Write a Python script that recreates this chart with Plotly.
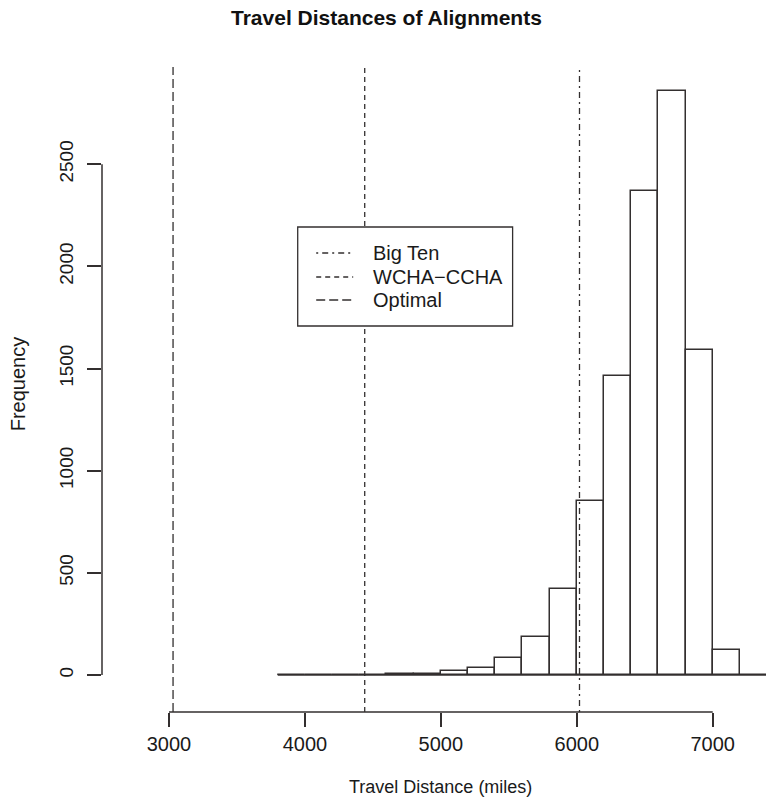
import plotly.graph_objects as go

# ---- data ----
bin_left = [3800, 4000, 4200, 4400, 4600, 4800, 5000, 5200, 5400, 5600,
            5800, 6000, 6200, 6400, 6600, 6800, 7000, 7200, 7400]
counts = [1, 1, 2, 2, 3, 5, 18, 35, 85, 185,
          420, 850, 1462, 2370, 2860, 1590, 120, 0, 0]
bin_width = 200

ref_names = ["Big Ten", "WCHA\u2212CCHA", "Optimal"]
ref_values = [6020, 4440, 3030]
ref_dash = ["2px,4px,6px,4px", "5px,4px", "9px,4px"]

x_ticks = [3000, 4000, 5000, 6000, 7000]
y_ticks = [0, 500, 1000, 1500, 2000, 2500]

INK = "#332f2f"
TXT = "#1a1a1a"
FONT = "Liberation Sans, Arial, sans-serif"

W, H = 766, 801
L, R_, T, B = 101.7, 0, 67, 89


def px(x):
    return (x - L) / (W - L - R_)


def py(y):
    return (H - B - y) / (H - B - T)


centers = [b + bin_width / 2 for b in bin_left]

fig = go.Figure()

# baseline spanning all bins (zero-count bins included)
fig.add_trace(go.Scatter(
    x=[bin_left[0], bin_left[-1] + bin_width], y=[0, 0],
    mode="lines", line=dict(color=INK, width=1.5),
    showlegend=False, hoverinfo="skip"))

fig.add_trace(go.Bar(
    x=centers, y=counts, width=bin_width,
    marker=dict(color="white", line=dict(color=INK, width=1.5)),
    showlegend=False))

shapes = []
for v, d in zip(ref_values, ref_dash):
    shapes.append(dict(type="line", xref="x", yref="paper", x0=v, x1=v,
                       y0=0, y1=1, line=dict(color=INK, width=1.3, dash=d)))

# R-style axis lines (only spanning the tick range)
shapes.append(dict(type="line", xref="x", yref="paper", x0=x_ticks[0],
                   x1=x_ticks[-1], y0=0, y1=0,
                   line=dict(color=INK, width=1.5)))
shapes.append(dict(type="line", xref="paper", yref="y", x0=0, x1=0,
                   y0=y_ticks[0], y1=y_ticks[-1],
                   line=dict(color=INK, width=1.5)))

# legend box
shapes.append(dict(type="rect", xref="paper", yref="paper",
                   x0=px(297.5), x1=px(512.5), y0=py(326), y1=py(227),
                   line=dict(color=INK, width=1.3), fillcolor="white"))

annotations = []
row_y = [253, 277, 300]
for name, d, ry in zip(ref_names, ref_dash, row_y):
    shapes.append(dict(type="line", xref="paper", yref="paper",
                       x0=px(316), x1=px(353), y0=py(ry), y1=py(ry),
                       line=dict(color=INK, width=1.3, dash=d)))
    annotations.append(dict(text=name, xref="paper", yref="paper",
                            x=px(371), y=py(ry), xanchor="left",
                            yanchor="middle", showarrow=False,
                            font=dict(family=FONT, size=20, color=TXT)))

annotations.append(dict(text="<b>Travel Distances of Alignments</b>",
                        xref="paper", yref="paper", x=px(386), y=py(17),
                        xanchor="center", yanchor="middle", showarrow=False,
                        font=dict(family=FONT, size=21, color="#111")))
annotations.append(dict(text="Travel Distance (miles)",
                        xref="paper", yref="paper", x=px(440), y=py(787),
                        xanchor="center", yanchor="middle", showarrow=False,
                        font=dict(family=FONT, size=18, color=TXT)))
annotations.append(dict(text="Frequency", textangle=-90,
                        xref="paper", yref="paper", x=px(18), y=py(384),
                        xanchor="center", yanchor="middle", showarrow=False,
                        font=dict(family=FONT, size=20, color=TXT)))

x_range = [3000 - (168.7 - L) / 0.136, 3000 + (W - 168.7) / 0.136]
y_range = [-(712 - 675) / 0.2043, (675 - 67) / 0.2043]

fig.update_layout(
    width=W, height=H,
    margin=dict(l=L, r=R_, t=T, b=B, pad=0),
    paper_bgcolor="white", plot_bgcolor="white",
    shapes=shapes, annotations=annotations,
    bargap=0,
    xaxis=dict(range=x_range, tickvals=x_ticks, showgrid=False,
               zeroline=False, showline=False, ticks="outside", ticklen=14,
               tickwidth=1.5, tickcolor=INK,
               tickfont=dict(family=FONT, size=20, color=TXT)),
    yaxis=dict(range=y_range, tickvals=y_ticks, showgrid=False,
               zeroline=False, showline=False, ticks="outside", ticklen=14,
               tickwidth=1.5, tickcolor=INK, tickangle=-90,
               ticklabelstandoff=6,
               tickfont=dict(family=FONT, size=19, color=TXT)),
)

fig.write_html("out.html",
               config={"displayModeBar": False},
               post_script="document.body.style.margin='0';"
                           "document.body.style.padding='0';")
